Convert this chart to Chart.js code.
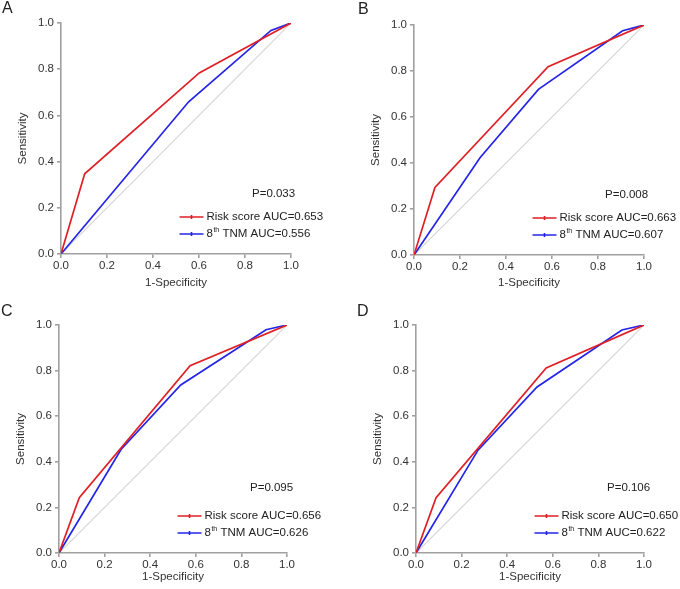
<!DOCTYPE html>
<html lang="en">
<head>
    <meta charset="UTF-8">
    <title>ROC curves: Risk score vs 8th TNM</title>
    <script src="https://cdn.jsdelivr.net/npm/chart.js"></script>
    <style>
        body { margin: 0; background: #fff; }
        #wrap { position: relative; width: 680px; height: 589px; }
        #wrap canvas { position: absolute; }
        .letter { position: absolute; font: 16px/16px "Liberation Sans", Arial, sans-serif; color: #222; }
    </style>
</head>
<body>
    <div id="wrap"></div>

    <script>
        // Dados (4 painéis)
        const panelLetters = ['A', 'B', 'C', 'D'];
        const pLabels = ['P=0.033', 'P=0.008', 'P=0.095', 'P=0.106'];
        const riskAuc = ['0.653', '0.663', '0.656', '0.650'];
        const tnmAuc = ['0.556', '0.607', '0.626', '0.622'];

        const riskFpr = [[0, 0.103, 0.601, 1], [0, 0.091, 0.583, 1], [0, 0.089, 0.575, 1], [0, 0.088, 0.571, 1]];
        const riskTpr = [[0, 0.347, 0.784, 1], [0, 0.294, 0.819, 1], [0, 0.243, 0.821, 1], [0, 0.243, 0.812, 1]];
        const tnmFpr = [[0, 0.555, 0.913, 1], [0, 0.287, 0.541, 0.907, 1], [0, 0.272, 0.534, 0.908, 1], [0, 0.272, 0.531, 0.903, 1]];
        const tnmTpr = [[0, 0.659, 0.968, 1], [0, 0.423, 0.720, 0.975, 1], [0, 0.454, 0.737, 0.979, 1], [0, 0.451, 0.728, 0.978, 1]];
        const refLine = [0, 1];

        // Layout: canvas position, plot box inside canvas [left, top, right, bottom]
        const panels = [
            { x: 0,   y: 0,   w: 340, h: 295, box: [61, 23, 291, 254], pOff: 60, lx: 2,   ly: 0 },
            { x: 340, y: 0,   w: 340, h: 295, box: [74, 25, 304, 255], pOff: 60, lx: 358, ly: 1 },
            { x: 0,   y: 295, w: 340, h: 294, box: [59, 30, 287, 258], pOff: 65, lx: 1,   ly: 303 },
            { x: 340, y: 295, w: 340, h: 294, box: [76, 30, 304, 258], pOff: 65, lx: 357, ly: 303 }
        ];

        const FONT = '"Liberation Sans", Arial, sans-serif';
        const RED = 'rgb(222, 32, 38)';
        const BLUE = 'rgb(36, 36, 232)';
        const AXIS = '#a0a0a0';

        function drawLabel(ctx, text, x, y) {
            const m = text.match(/^(\d+)(th)(.*)$/);
            if (!m) { ctx.fillText(text, x, y); return; }
            ctx.fillText(m[1], x, y);
            x += ctx.measureText(m[1]).width;
            const base = ctx.font;
            ctx.font = '7px ' + FONT;
            ctx.fillText(m[2], x + 0.5, y - 4);
            x += ctx.measureText(m[2]).width + 0.5;
            ctx.font = base;
            ctx.fillText(m[3], x, y);
        }

        const rocLegend = {
            id: 'rocLegend',
            afterDatasetsDraw(chart, args, opts) {
                const { ctx, chartArea } = chart;
                ctx.save();
                ctx.font = '11.5px ' + FONT;
                ctx.fillStyle = '#222';
                ctx.textBaseline = 'middle';
                ctx.fillText(opts.p, chartArea.left + 191, chartArea.bottom - opts.pOff);
                chart.data.datasets.slice(0, 2).forEach((ds, k) => {
                    const y = chartArea.bottom - (k === 0 ? 37 : 20);
                    const x0 = chartArea.left + 118.5;
                    ctx.strokeStyle = ds.borderColor;
                    ctx.lineWidth = 1.6;
                    ctx.beginPath();
                    ctx.moveTo(x0, y); ctx.lineTo(x0 + 24, y);
                    ctx.moveTo(x0 + 12, y - 2); ctx.lineTo(x0 + 12, y + 2);
                    ctx.stroke();
                    drawLabel(ctx, ds.label, x0 + 27, y);
                });
                ctx.restore();
            }
        };

        const toPoints = (xs, ys) => xs.map((x, j) => ({ x: x, y: ys[j] }));

        const wrap = document.getElementById('wrap');
        panels.forEach((p, i) => {
            const cv = document.createElement('canvas');
            cv.width = p.w; cv.height = p.h;
            cv.style.left = p.x + 'px'; cv.style.top = p.y + 'px';
            cv.style.width = p.w + 'px'; cv.style.height = p.h + 'px';
            wrap.appendChild(cv);

            const lab = document.createElement('div');
            lab.className = 'letter';
            lab.style.left = p.lx + 'px'; lab.style.top = p.ly + 'px';
            lab.textContent = panelLetters[i];
            wrap.appendChild(lab);

            const [L, T, R, B] = p.box;
            const axisOpts = {
                type: 'linear', min: 0, max: 1,
                grid: { display: true, drawOnChartArea: false, drawTicks: true, tickLength: 4, color: AXIS, lineWidth: 1.6 },
                border: { display: true, color: AXIS, width: 1.6 },
                ticks: { stepSize: 0.2, color: '#333', font: { family: FONT, size: 11.5 }, callback: v => v.toFixed(1) }
            };

            new Chart(cv.getContext('2d'), {
                type: 'line',
                data: {
                    datasets: [
                        { label: 'Risk score AUC=' + riskAuc[i], data: toPoints(riskFpr[i], riskTpr[i]), borderColor: RED, borderWidth: 1.7 },
                        { label: '8th TNM AUC=' + tnmAuc[i], data: toPoints(tnmFpr[i], tnmTpr[i]), borderColor: BLUE, borderWidth: 1.7 },
                        { label: 'ref', data: toPoints(refLine, refLine), borderColor: '#d4d4d4', borderWidth: 1.1 }
                    ]
                },
                options: {
                    responsive: false,
                    animation: false,
                    devicePixelRatio: 1,
                    elements: { point: { radius: 0 }, line: { tension: 0 } },
                    layout: { padding: { left: L - 46, top: T, right: p.w - R, bottom: 0 } },
                    plugins: {
                        legend: { display: false },
                        tooltip: { enabled: false },
                        rocLegend: { p: pLabels[i], pOff: p.pOff }
                    },
                    scales: {
                        x: Object.assign({}, axisOpts, {
                            ticks: Object.assign({}, axisOpts.ticks, { padding: 1, maxRotation: 0 }),
                            title: { display: true, text: '1-Specificity', color: '#333', font: { family: FONT, size: 11.5 }, padding: { top: 0, bottom: 5 } },
                            afterFit: s => { s.height = p.h - B; }
                        }),
                        y: Object.assign({}, axisOpts, {
                            ticks: Object.assign({}, axisOpts.ticks, { padding: 3 }),
                            title: { display: true, text: 'Sensitivity', color: '#333', font: { family: FONT, size: 11.5 }, padding: { top: 1, bottom: 0 } },
                            afterFit: s => { s.width = 46; }
                        })
                    }
                },
                plugins: [rocLegend]
            });
        });
    </script>
</body>
</html>
